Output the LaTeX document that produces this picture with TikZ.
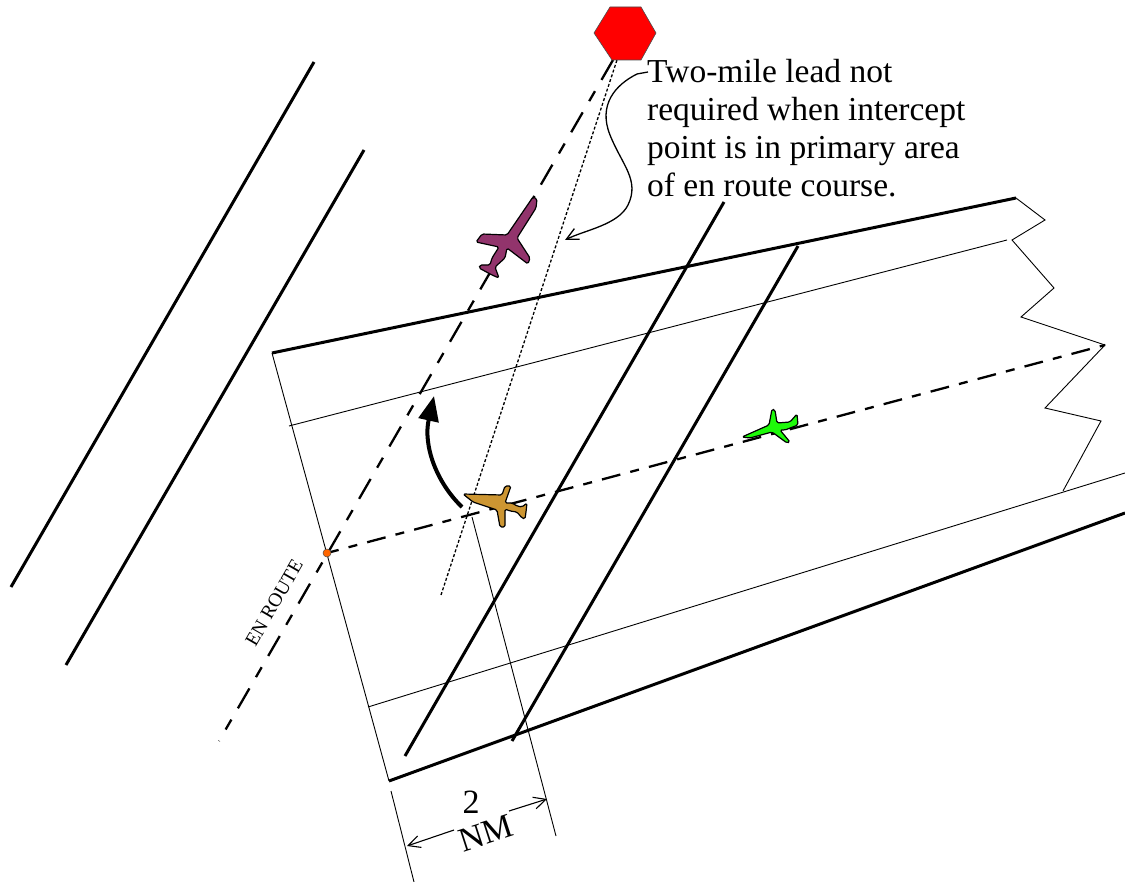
\documentclass[tikz,border=0pt]{standalone}
\usepackage{fontspec}
\setmainfont{Liberation Serif}
\usetikzlibrary{arrows.meta}
\tikzset{
  thickline/.style={line width=3pt,black},
  thinline/.style={line width=0.9pt,black},
  planeshape/.style={draw=black,line width=1.2pt,line join=round,rounded corners=1.6pt},
  dashcourse/.style={line width=2.3pt,dash pattern=on 23pt off 13pt on 11.5pt off 13pt},
  dashintercept/.style={line width=2.3pt,dash pattern=on 19pt off 10.3pt on 9pt off 10.3pt,dash phase=7pt},
  dotcourse/.style={line width=1.3pt,dash pattern=on 3pt off 2pt},
  note/.style={font=\fontsize{33.5}{38}\selectfont,align=left,anchor=north west,inner sep=0pt},
  dimlabel/.style={font=\fontsize{34}{34}\selectfont,inner sep=0pt},
  barbhead/.tip={Straight Barb[length=12pt,width=12pt]},
}
\begin{document}
\begin{tikzpicture}[x=1pt,y=-1pt]
\useasboundingbox (0,0) rectangle (1125,882);
% key points
\coordinate (fix) at (327,553);
\coordinate (courseA) at (219,741);
\coordinate (courseB) at (613,60);
\coordinate (far) at (1105,345);
\coordinate (tl) at (272,353);
\coordinate (bl) at (389,781);
\coordinate (tr) at (1016,198);
\coordinate (dotA) at (441,595);
\coordinate (dotB) at (617,60);
% left parallel lines
\draw[thickline] (11,587) -- (314,62);
\draw[thickline] (66,665) -- (364,150);
% airway
\draw[thickline] (tl) -- (tr);
\draw[thickline] (bl) -- (1125,513);
\draw[thinline] (289,426) -- (1007,240);
\draw[thinline] (368,707) -- (1125,473);
\draw[thinline] (tl) -- (bl);
\draw[thinline] (391,791) -- (414,882);
\draw[thinline] (472,517) -- (556,836);
\draw[thickline] (405,756) -- (724,202);
\draw[thickline] (512,741) -- (798,246);
% break line
\draw[thinline] (tr) -- (1045,220) -- (1012,240) -- (1054,288) -- (1021,317) -- (far) -- (1045,408) -- (1101,421) -- (1063,491);
% courses
\draw[dashcourse] (courseB) -- (courseA);
\draw[dashintercept] (fix) -- (far);
\draw[dotcourse] (dotA) -- (dotB);
% turn arrow
\draw[line width=4pt,-{Triangle[length=25pt,width=20pt]}] (462,507) .. controls (436,482) and (423,445) .. (434,396);
% planes
\draw[planeshape,fill={rgb,255:red,146;green,52;blue,108}] (533,197) -- (537,199) -- (536,208) -- (517,238) -- (530,258) -- (528,264) -- (507,248) -- (505,258) -- (495,267) -- (499,278) -- (492,275) -- (479,268) -- (480,265) -- (490,265) -- (492,258) -- (499,247) -- (476,242) -- (482,234) -- (507,235) -- cycle;
\draw[planeshape,fill={rgb,255:red,205;green,150;blue,50}] (463,494) -- (502,495) -- (505,486) -- (511,486) -- (505,503) -- (512,503) -- (517,506) -- (522,507) -- (527,503) -- (526,512) -- (525,519) -- (522,518) -- (517,512) -- (510,511) -- (505,509) -- (505,527) -- (500,527) -- (497,510) -- (473,502) -- cycle;
\draw[planeshape,fill={rgb,255:red,30;green,250;blue,10}] (742,437) -- (769,425) -- (772,409) -- (775,410) -- (777,423) -- (790,422) -- (797,414) -- (798,425) -- (785,430) -- (780,430) -- (790,442) -- (787,443) -- (772,432) -- (750,438) -- cycle;
% fix and hexagon
\node[circle,fill={rgb,255:red,255;green,102;blue,0},draw=black!70,line width=0.5pt,minimum size=8pt,inner sep=0pt] (fixdot) at (fix) {};
\draw[fill=red,draw=black!70,line width=0.6pt] (594,33) -- (610,7) -- (641,7) -- (656,33) -- (641,60) -- (612,60) -- cycle;
% note
\node[note] (notetext) at (647,59) {Two-mile lead not\\required when intercept\\point is in primary area\\of en route course.};
\coordinate (leader) at (648,72);
\draw[line width=1.3pt,-{barbhead}] (leader) -- (637,74) .. controls (615,85) and (598,105) .. (610,135) .. controls (622,165) and (640,180) .. (628,205) .. controls (618,225) and (585,230) .. (565,240);
% labels
\node[font=\fontsize{19.5}{19.5}\selectfont,rotate=60,inner sep=0pt] (enroute) at (274,603) {EN ROUTE};
\node[dimlabel] (two) at (471,802) {2};
\node[dimlabel,rotate=18] (nm) at (486,833) {NM};
\coordinate (dimL) at (407,846);
\coordinate (dimR) at (547,799);
\draw[line width=1.1pt,{barbhead}-] (dimL) -- (454,830);
\draw[line width=1.1pt,-{barbhead}] (509,811) -- (dimR);
\end{tikzpicture}
\end{document}
